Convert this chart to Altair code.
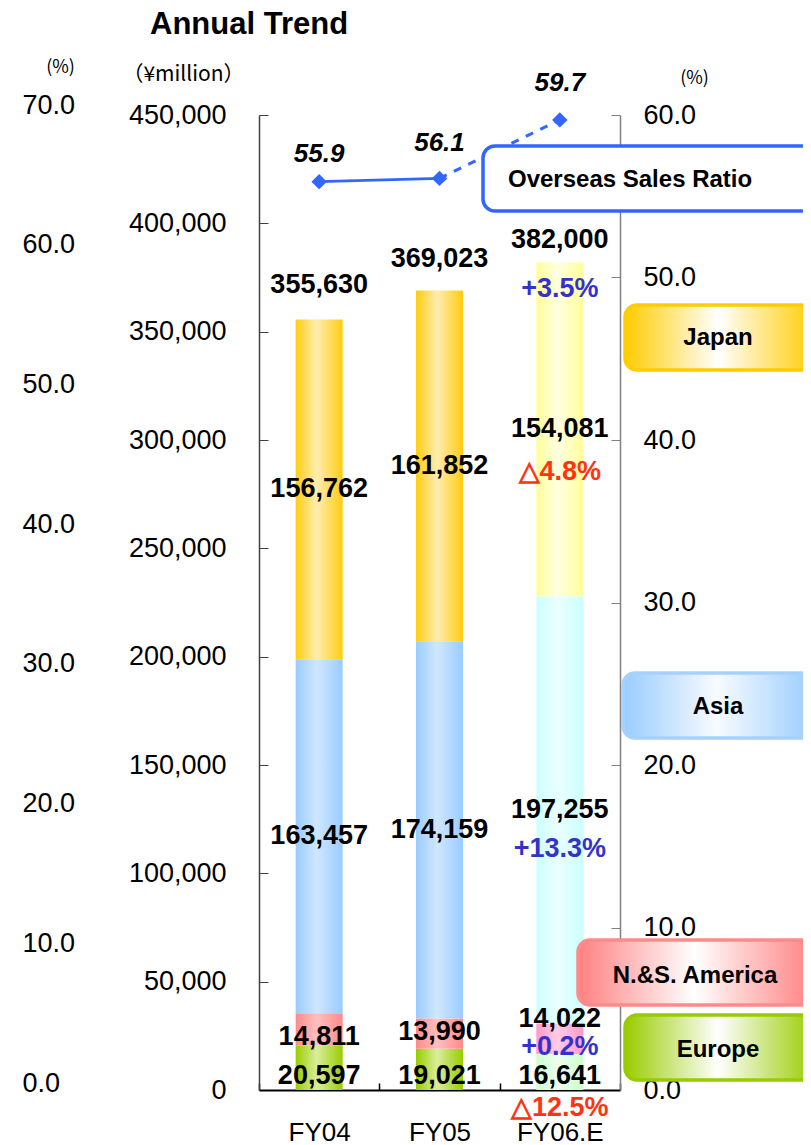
import altair as alt
import pandas as pd

# ---------------- data ----------------
years = ["FY04", "FY05", "FY06.E"]
regions = ["Europe", "N.&S. America", "Asia", "Japan"]
europe = [20597, 19021, 16641]
americas = [14811, 13990, 14022]
asia = [163457, 174159, 197255]
japan = [156762, 161852, 154081]
totals = [355630, 369023, 382000]
ratio = [55.9, 56.1, 59.7]
fy06_change = {"Total": "+3.5%", "Japan": "△4.8%", "Asia": "+13.3%",
               "N.&S. America": "+0.2%", "Europe": "△12.5%"}
left_ticks = [0, 50000, 100000, 150000, 200000, 250000, 300000, 350000, 400000, 450000]
right_ticks = [0, 10, 20, 30, 40, 50, 60]
outer_ticks = [0, 10, 20, 30, 40, 50, 60, 70]
legend_labels = ["Overseas Sales Ratio", "Japan", "Asia", "N.&S. America", "Europe"]

# ---------------- tables ----------------
series = {"Europe": europe, "N.&S. America": americas, "Asia": asia, "Japan": japan}
rows = []
for i, yr in enumerate(years):
    base = 0
    for r in regions:
        v = series[r][i]
        rows.append(dict(year=yr, region=r, start=base, end=base + v,
                         mid=base + v / 2, value=v, est=(yr == "FY06.E")))
        base += v
seg = pd.DataFrame(rows)

# pixel nudges for label placement (style only)
value_nudge = {("FY04", "N.&S. America"): 8, ("FY04", "Europe"): 8,
               ("FY05", "N.&S. America"): -2, ("FY05", "Europe"): 7,
               ("FY06.E", "N.&S. America"): -20, ("FY06.E", "Europe"): 4}
change_nudge = {"Japan": 43, "Asia": 39, "N.&S. America": 8, "Europe": 36}
total_nudge = {"FY04": -34, "FY05": -31, "FY06.E": -22}
ratio_nudge = {"FY04": -28, "FY05": -35, "FY06.E": -37}


def change_color(t):
    return "#3333CC" if t.startswith("+") else "#FF3311"


lab = []
for r in rows:
    lab.append(dict(year=r["year"], pos=r["mid"], text=f"{r['value']:,}", col="black",
                    off=value_nudge.get((r["year"], r["region"]), 0)))
    if r["est"]:
        t = fy06_change[r["region"]]
        lab.append(dict(year=r["year"], pos=r["mid"], text=t, col=change_color(t),
                        off=change_nudge[r["region"]]))
for i, yr in enumerate(years):
    top = sum(series[r][i] for r in regions)
    lab.append(dict(year=yr, pos=top, text=f"{totals[i]:,}", col="black", off=total_nudge[yr]))
    if yr == "FY06.E":
        t = fy06_change["Total"]
        lab.append(dict(year=yr, pos=top, text=t, col=change_color(t), off=27))
labels = pd.DataFrame(lab)

ratio_df = pd.DataFrame({"year": years, "ratio": ratio})
ratio_df["off"] = ratio_df["year"].map(ratio_nudge)

# ---------------- styles ----------------
FONT = "Liberation Sans"
BLUE = "#3366FF"
H = 975


def grad(edge, center, mid=0.45):
    return alt.Gradient(gradient="linear", x1=0, x2=1, y1=0, y2=0,
                        stops=[alt.GradientStop(color=edge, offset=0),
                               alt.GradientStop(color=center, offset=mid),
                               alt.GradientStop(color=edge, offset=1)])


bar_colors = {
    False: {"Japan": ("#FFCC11", "#FFEDB0"), "Asia": ("#99CCFF", "#CFE7FF"),
            "N.&S. America": ("#FF8A8A", "#FFBFBF"), "Europe": ("#99CC00", "#DAEE9C")},
    True: {"Japan": ("#FFFF99", "#FFFFE2"), "Asia": ("#CCFFFF", "#EAFFFF"),
           "N.&S. America": ("#FF99CC", "#FFCCE8"), "Europe": ("#CCFFCC", "#EEFFEE")},
}

x_enc = alt.X("year:N", sort=years,
              scale=alt.Scale(domain=years, paddingInner=0, paddingOuter=0),
              axis=alt.Axis(labelFontSize=26, labelPadding=29, ticks=False, tickBand="extent",
                            grid=True, gridDash=[7, H - 7], gridDashOffset=7,
                            gridColor="black", gridWidth=1.5,
                            domainColor="black", domainWidth=2, labelAngle=0, title=None,
                            labelFont=FONT, labelColor="black"))

money_scale = alt.Scale(domain=[0, 450000], nice=False)
left_axis = alt.Axis(values=left_ticks, format=",.0f", labelFontSize=27, labelPadding=33,
                     ticks=False, domainColor="#404040", domainWidth=1.5,
                     grid=True, gridDash=[9, 4000], gridColor="#404040",
                     title="（¥million）", titleAngle=0, titleX=-76, titleY=-41,
                     titleFontSize=21, titleFontWeight="normal", titleFont="Noto Sans CJK JP",
                     titleAlign="center", titleBaseline="middle", titleColor="black",
                     labelFont=FONT, labelColor="black")

# ---------------- bars ----------------
money_layers = []
for est in [False, True]:
    for r in regions:
        edge, center = bar_colors[est][r]
        money_layers.append(alt.Chart(seg).transform_filter(
            (alt.datum.region == r) & (alt.datum.est == est)
        ).mark_bar(width=47, fill=grad(edge, center), strokeWidth=0).encode(
            x=x_enc,
            y=alt.Y("start:Q", scale=money_scale, axis=left_axis),
            y2="end:Q",
        ))

for off in sorted(labels["off"].unique()):
    money_layers.append(alt.Chart(labels).transform_filter(
        alt.datum.off == int(off)
    ).mark_text(fontSize=27, fontWeight="bold", font=FONT, baseline="middle",
                dy=int(off)).encode(
        x=x_enc,
        y=alt.Y("pos:Q", scale=money_scale, axis=left_axis),
        text="text:N",
        color=alt.Color("col:N", scale=None),
    ))
money_group = alt.layer(*money_layers)

# ---------------- ratio line ----------------
ratio_scale = alt.Scale(domain=[0, 60], nice=False)
right_axis = alt.Axis(orient="right", values=right_ticks, format=".1f", labelFontSize=27,
                      labelPadding=23, ticks=False, domainColor="#808080", domainWidth=1.5,
                      grid=True, gridDash=[9, 4000], gridColor="#808080",
                      title="(%)", titleAngle=0, titleX=74, titleY=-37, titleFontSize=18,
                      titleFontWeight="normal", titleFont="Noto Sans CJK JP",
                      titleAlign="center", titleBaseline="middle", titleColor="black",
                      labelFont=FONT, labelColor="black")
y_ratio = alt.Y("ratio:Q", scale=ratio_scale, axis=right_axis)

line_solid = alt.Chart(ratio_df).transform_filter(
    alt.FieldOneOfPredicate(field="year", oneOf=years[:2])
).mark_line(color=BLUE, strokeWidth=3).encode(x=x_enc, y=y_ratio)
line_dash = alt.Chart(ratio_df).transform_filter(
    alt.FieldOneOfPredicate(field="year", oneOf=years[1:])
).mark_line(color=BLUE, strokeWidth=3, strokeDash=[8, 8]).encode(x=x_enc, y=y_ratio)
pts = alt.Chart(ratio_df).mark_point(shape="diamond", filled=True, size=240, color=BLUE,
                                     opacity=1).encode(x=x_enc, y=y_ratio)
ratio_layers = [line_solid, line_dash, pts]

# ---------------- legend boxes ----------------
box_style = {
    "Overseas Sales Ratio": dict(x=224, x2=590, y=31, y2=96, fill="white", stroke=BLUE,
                                 tx=249, ty=65, align="left"),
    "Japan": dict(x=366, x2=556, y=190, y2=255, fill=grad("#FFCC00", "#FFFFFF", 0.49),
                  stroke="#FFCC00", tx=459, ty=223, align="center"),
    "Asia": dict(x=364, x2=556, y=558, y2=623, fill=grad("#99CCFF", "#F8FBFF", 0.49),
                 stroke="#A6D1FF", tx=459, ty=592, align="center"),
    "N.&S. America": dict(x=319, x2=556, y=825, y2=890, fill=grad("#FF8080", "#FFFFFF", 0.49),
                          stroke="#FF8A8A", tx=436, ty=861, align="center"),
    "Europe": dict(x=366, x2=556, y=900, y2=965, fill=grad("#99CC00", "#FFFFFF", 0.49),
                   stroke="#99CC00", tx=459, ty=935, align="center"),
}
legend_layers = []
for name in legend_labels:
    s = box_style[name]
    d = pd.DataFrame({"label": [name]})
    legend_layers.append(
        alt.Chart(d).mark_rect(fill=s["fill"], stroke=s["stroke"], strokeWidth=3.5,
                               cornerRadius=12).encode(
            x=alt.value(s["x"]), x2=alt.value(s["x2"]), y=alt.value(s["y"]), y2=alt.value(s["y2"])))
    legend_layers.append(
        alt.Chart(d).mark_text(fontSize=24, fontWeight="bold", font=FONT, align=s["align"],
                               baseline="middle", color="black").encode(
            x=alt.value(s["tx"]), y=alt.value(s["ty"]), text="label:N"))

ratio_layers += legend_layers[:2]
for off in sorted(ratio_df["off"].unique()):
    ratio_layers.append(alt.Chart(ratio_df).transform_filter(
        alt.datum.off == int(off)
    ).mark_text(fontSize=26, fontWeight="bold", fontStyle="italic", font=FONT,
                baseline="middle", dy=int(off)).encode(
        x=x_enc, y=y_ratio, text=alt.Text("ratio:Q", format=".1f")))
ratio_group = alt.layer(*ratio_layers)

# ---------------- outer percent axis ----------------
outer = alt.Chart(pd.DataFrame({"v": [0, 70]})).mark_point(opacity=0).encode(
    y=alt.Y("v:Q", scale=alt.Scale(domain=[0, 70], range=[968, -10], nice=False),
            axis=alt.Axis(orient="left", offset=237, values=outer_ticks, format=".1f",
                          domain=False, ticks=False, grid=False, labelAlign="left",
                          labelPadding=0, labelFontSize=27, labelFont=FONT, labelColor="black",
                          title="(%)", titleAngle=0, titleX=38, titleY=-48, titleFontSize=18,
                          titleFontWeight="normal", titleFont="Noto Sans CJK JP",
                          titleAlign="center", titleBaseline="middle", titleColor="black")))

# ---------------- assemble ----------------
chart = alt.layer(money_group, ratio_group, outer, *legend_layers[2:]).resolve_scale(
    y="independent"
).properties(
    width=361, height=H,
    padding={"left": 251, "top": 107, "right": 183, "bottom": 53},
    autosize=alt.AutoSizeParams(type="none"),
    title=alt.TitleParams("Annual Trend", anchor="start", frame="group", dx=-109, offset=17,
                          fontSize=31, fontWeight="bold", font=FONT, color="black"),
).configure_view(stroke=None)

chart.save("out.html", embed_options={"renderer": "svg", "actions": False})
